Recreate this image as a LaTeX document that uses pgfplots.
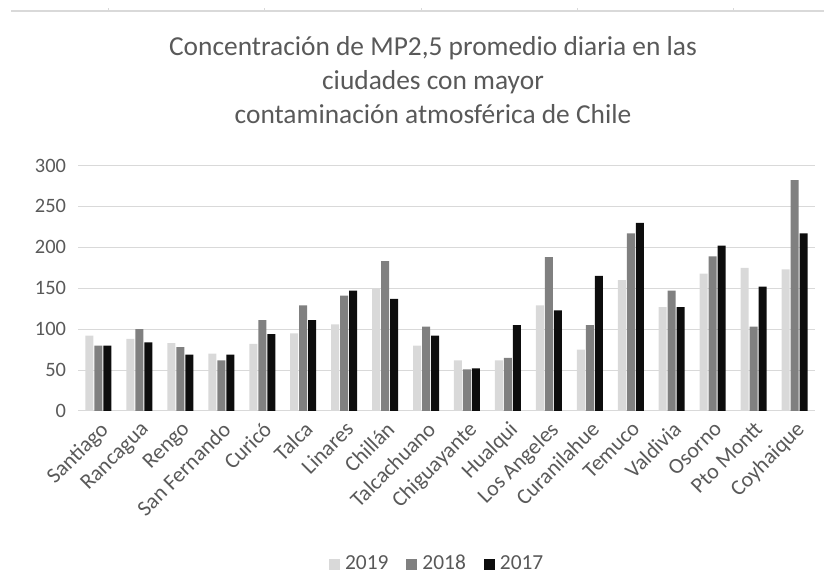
\documentclass[border=0pt]{standalone}
\usepackage{fontspec}
\setmainfont{Carlito}
\usepackage{pgfplots}
\usepackage{pgfplotstable}
\pgfplotsset{compat=1.18}
\definecolor{txt}{HTML}{595959}
\definecolor{c19}{HTML}{D9D9D9}
\definecolor{c18}{HTML}{808080}
\definecolor{c17}{HTML}{0D0D0D}
\definecolor{gridc}{HTML}{D9D9D9}

% MP2,5 por ciudad: 2019, 2018, 2017
\pgfplotstableread{
x  a2019 a2018 a2017
0  92  80  80
1  88  100 84
2  83  78  69
3  70  62  69
4  82  111 94
5  95  129 111
6  106 141 147
7  150 183 137
8  80  103 92
9  62  51  52
10 62  65  105
11 129 188 123
12 75  105 165
13 160 217 230
14 127 147 127
15 168 189 202
16 175 103 152
17 173 282 217
}\datos

\begin{document}
\begin{tikzpicture}[x=1bp,y=1bp]
\useasboundingbox (0,0) rectangle (824,575);
% linea superior
\draw[gridc, line width=1.2bp] (11,564) -- (824,564);
\foreach \xx in {108,264,421,577,733}
  \draw[gridc, line width=0.8bp] (\xx,564) -- (\xx,567);
\node[text=txt, align=center, font=\fontsize{27.5}{34}\selectfont] at (433,495)
  {Concentración de MP2,5 promedio diaria en las\\ciudades con mayor\\contaminación atmosférica de Chile};
\begin{axis}[
    at={(78bp,164bp)}, anchor=south west,
    scale only axis, width=737bp, height=245.5bp,
    ybar=1bp, bar width=8bp,
    ymin=0, ymax=300, ytick={0,50,...,300},
    xmin=-0.5, xmax=17.5, xtick={0,...,17},
    xticklabels={Santiago,Rancagua,Rengo,San Fernando,Curicó,Talca,Linares,Chillán,Talcachuano,Chiguayante,Hualqui,Los Angeles,Curanilahue,Temuco,Valdivia,Osorno,Pto Montt,Coyhaique},
    x tick label style={rotate=45, anchor=north east, font=\fontsize{22}{24}\selectfont, text=txt},
    yticklabel style={font=\fontsize{20.5}{23}\selectfont, text=txt, xshift=-8.5bp},
    /pgf/number format/assume math mode=true,
    axis line style={draw=none},
    tick style={draw=none},
    ymajorgrids, grid style={gridc, line width=1bp},
    legend style={at={(0.486,-0.619)}, anchor=center, draw=none, legend columns=-1,
      font=\fontsize{21.5}{23}\selectfont, text=txt,
      nodes={inner sep=0pt}, cells={anchor=base west},
      /tikz/every odd column/.append style={column sep=5bp},
      /tikz/every even column/.append style={column sep=18bp}},
    legend image code/.code={\fill[#1] (0bp,-0.5bp) rectangle (11bp,10.5bp);},
]
\addplot[fill=c19, draw=none] table[x=x, y=a2019] {\datos};
\addplot[fill=c18, draw=none] table[x=x, y=a2018] {\datos};
\addplot[fill=c17, draw=none] table[x=x, y=a2017] {\datos};
\legend{2019,2018,2017}
\end{axis}
\end{tikzpicture}
\end{document}
